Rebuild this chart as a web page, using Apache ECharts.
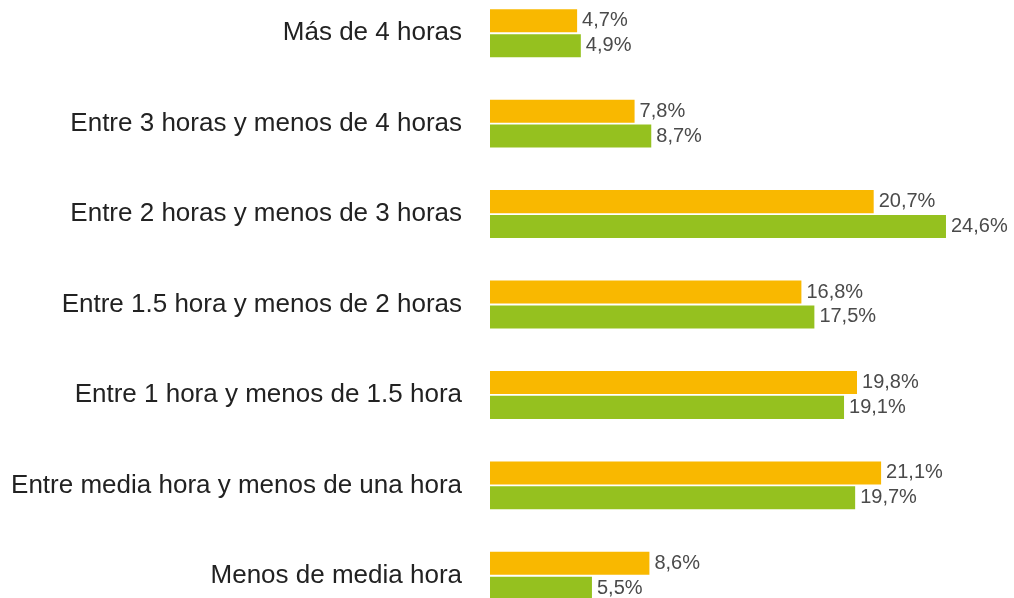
<!DOCTYPE html>
<html>
<head>
<meta charset="utf-8">
<script src="https://cdn.jsdelivr.net/npm/echarts@6/dist/echarts.min.js"></script>
<style>
  html, body { margin: 0; padding: 0; background: #fff; }
  #chart { width: 1014px; height: 598px; }
</style>
</head>
<body>
<div id="chart"></div>
<script>
// Time-spent categories, listed top to bottom
const categories = [
  'Más de 4 horas',
  'Entre 3 horas y menos de 4 horas',
  'Entre 2 horas y menos de 3 horas',
  'Entre 1.5 hora y menos de 2 horas',
  'Entre 1 hora y menos de 1.5 hora',
  'Entre media hora y menos de una hora',
  'Menos de media hora'
];
// Percentages for the two groups (same order as categories)
const seriesOrange = [4.7, 7.8, 20.7, 16.8, 19.8, 21.1, 8.6];
const seriesGreen = [4.9, 8.7, 24.6, 17.5, 19.1, 19.7, 5.5];

const fontFamily = '"Liberation Sans", Arial, sans-serif';
const fmt = p => p.value.toFixed(1).replace('.', ',') + '%';
const labelStyle = {
  show: true,
  position: 'right',
  distance: 5,
  formatter: fmt,
  color: '#4a4a4a',
  fontSize: 20,
  padding: [4, 0, 0, 0],
  fontFamily: fontFamily
};

const chart = echarts.init(document.getElementById('chart'), null, { renderer: 'canvas' });
chart.setOption({
  animation: false,
  grid: {
    left: 490, top: -12, width: 519, height: 633,
    containLabel: false,
    outerBoundsMode: 'none'
  },
  xAxis: {
    type: 'value',
    min: 0,
    max: 28,
    show: false
  },
  yAxis: {
    type: 'category',
    data: categories,
    inverse: true,
    axisLine: { show: false },
    axisTick: { show: false },
    splitLine: { show: false },
    axisLabel: {
      margin: 28,
      color: '#222',
      fontSize: 26,
      padding: [5, 0, 0, 0],
      fontFamily: fontFamily
    }
  },
  series: [
    {
      type: 'bar',
      data: seriesOrange,
      itemStyle: { color: '#F9B800' },
      barGap: '8%',
      barCategoryGap: '47%',
      label: labelStyle
    },
    {
      type: 'bar',
      data: seriesGreen,
      itemStyle: { color: '#95C11F' },
      barGap: '8%',
      barCategoryGap: '47%',
      label: labelStyle
    }
  ]
});
</script>
</body>
</html>
